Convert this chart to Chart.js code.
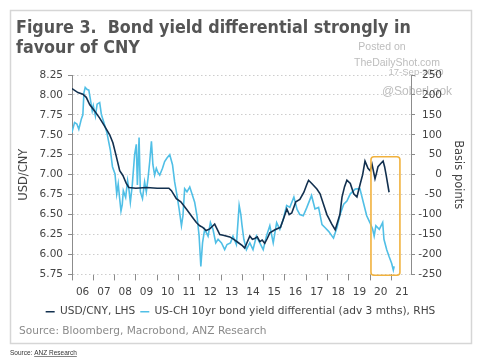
<!DOCTYPE html>
<html>
<head>
<meta charset="utf-8">
<script src="https://cdn.jsdelivr.net/npm/chart.js@4.4.0/dist/chart.umd.min.js"></script>
<style>
  html, body { margin: 0; padding: 0; background: #fff; }
  canvas { display: block; }
</style>
</head>
<body>
<canvas id="chart" width="480" height="363"></canvas>
<script>
// USD/CNY, left axis (year, rate)
const usdYears = [2006.00, 2006.28, 2006.51, 2006.67, 2006.83, 2007.06, 2007.30, 2007.53, 2007.77, 2007.92,
  2008.08, 2008.24, 2008.39, 2008.55, 2008.67, 2009.00, 2009.50, 2010.00, 2010.55, 2010.67,
  2010.90, 2011.11, 2011.37, 2011.62, 2011.84, 2012.00, 2012.14, 2012.30, 2012.47, 2012.62,
  2012.70, 2012.85, 2012.94, 2013.10, 2013.41, 2013.60, 2013.80, 2014.00, 2014.11, 2014.22,
  2014.35, 2014.47, 2014.58, 2014.70, 2014.82, 2014.93, 2015.05, 2015.17, 2015.29, 2015.53,
  2015.79, 2015.95, 2016.09, 2016.20, 2016.32, 2016.51, 2016.70, 2016.89, 2017.03, 2017.11,
  2017.26, 2017.50, 2017.65, 2017.81, 2017.97, 2018.20, 2018.36, 2018.44, 2018.58, 2018.68,
  2018.80, 2018.91, 2019.07, 2019.23, 2019.38, 2019.54, 2019.65, 2019.76, 2019.84, 2019.90,
  2020.00, 2020.09, 2020.23, 2020.30, 2020.37, 2020.50, 2020.61, 2020.68, 2020.75, 2020.89];
const usdValues = [8.08, 8.03, 8.01, 7.97, 7.88, 7.80, 7.71, 7.61, 7.50, 7.40,
  7.23, 7.05, 6.99, 6.89, 6.84, 6.83, 6.84, 6.83, 6.83, 6.80,
  6.70, 6.66, 6.57, 6.48, 6.40, 6.36, 6.34, 6.30, 6.32, 6.36,
  6.38, 6.30, 6.25, 6.24, 6.22, 6.19, 6.15, 6.11, 6.08, 6.15,
  6.23, 6.19, 6.20, 6.22, 6.16, 6.18, 6.14, 6.20, 6.27, 6.31,
  6.34, 6.46, 6.57, 6.50, 6.52, 6.66, 6.69, 6.78, 6.88, 6.93,
  6.89, 6.82, 6.76, 6.63, 6.50, 6.38, 6.31, 6.38, 6.50, 6.72,
  6.85, 6.93, 6.89, 6.76, 6.72, 6.89, 7.00, 7.17, 7.12, 7.08,
  7.05, 7.13, 6.95, 7.02, 7.10, 7.14, 7.17, 7.10, 7.00, 6.78];

// US-CH 10yr yield differential, advanced 3 months, right axis (year, bp)
const diffYears = [2005.99, 2006.12, 2006.23, 2006.32, 2006.44, 2006.51, 2006.56, 2006.62, 2006.70, 2006.79,
  2006.86, 2006.95, 2007.00, 2007.10, 2007.18, 2007.30, 2007.38, 2007.50, 2007.64, 2007.80,
  2007.90, 2008.02, 2008.10, 2008.17, 2008.25, 2008.30, 2008.36, 2008.41, 2008.52, 2008.61,
  2008.68, 2008.74, 2008.83, 2008.94, 2009.02, 2009.07, 2009.15, 2009.21, 2009.31, 2009.41,
  2009.49, 2009.57, 2009.65, 2009.73, 2009.80, 2009.88, 2009.96, 2010.04, 2010.12, 2010.25,
  2010.35, 2010.46, 2010.59, 2010.72, 2010.82, 2010.93, 2011.03, 2011.14, 2011.21, 2011.29,
  2011.40, 2011.53, 2011.66, 2011.76, 2011.87, 2011.97, 2012.05, 2012.13, 2012.23, 2012.39,
  2012.50, 2012.62, 2012.75, 2012.86, 2013.02, 2013.17, 2013.28, 2013.44, 2013.56, 2013.72,
  2013.85, 2013.93, 2013.98, 2014.07, 2014.19, 2014.35, 2014.50, 2014.66, 2014.82, 2014.98,
  2015.13, 2015.29, 2015.45, 2015.61, 2015.76, 2015.92, 2016.08, 2016.23, 2016.42, 2016.57,
  2016.70, 2016.86, 2017.03, 2017.25, 2017.41, 2017.58, 2017.74, 2017.89, 2018.05, 2018.28,
  2018.44, 2018.59, 2018.76, 2018.91, 2019.07, 2019.30, 2019.52, 2019.68, 2019.84, 2019.99,
  2020.12, 2020.19, 2020.27, 2020.43, 2020.59, 2020.65, 2020.78, 2020.89, 2021.01, 2021.09,
  2021.13];
const diffValues = [105, 131, 127, 114, 140, 150, 205, 219, 214, 212,
  190, 160, 173, 147, 177, 181, 151, 130, 105, 62,
  20, 2, -48, -23, -66, -91, -75, -40, -57, -15,
  -40, -69, -26, 50, 76, -26, 93, -43, -60, -18,
  -43, -9, 33, 84, 25, -1, 16, 5, -1, 16,
  33, 42, 50, 25, -18, -52, -86, -128, -103, -35,
  -43, -31, -52, -69, -103, -154, -230, -171, -137, -154,
  -120, -137, -171, -162, -171, -188, -175, -171, -154, -175,
  -77, -100, -125, -162, -188, -171, -188, -154, -171, -188,
  -154, -128, -171, -120, -137, -112, -77, -82, -56, -87,
  -100, -103, -82, -52, -86, -82, -125, -133, -142, -159,
  -133, -100, -74, -66, -48, -36, -35, -69, -103, -120,
  -137, -154, -128, -137, -120, -162, -188, -205, -222, -239,
  -230];

const xTickYears = [2006, 2007, 2008, 2009, 2010, 2011, 2012, 2013, 2014, 2015, 2016, 2017, 2018, 2019, 2020, 2021];
const xTickLabels = ['06', '07', '08', '09', '10', '11', '12', '13', '14', '15', '16', '17', '18', '19', '20', '21'];
const leftTicks = [5.75, 6.00, 6.25, 6.50, 6.75, 7.00, 7.25, 7.50, 7.75, 8.00, 8.25];
const rightTicks = [-250, -200, -150, -100, -50, 0, 50, 100, 150, 200, 250];

// highlighted period (orange box), in data units
const boxYears = [2020.04, 2021.40];
const boxBps = [-252, 45];

const FONT = '"DejaVu Sans", Verdana, sans-serif';
const TITLE_FONT = '"DejaVu Sans Condensed", "DejaVu Sans", Verdana, sans-serif';
const TXT = '#444';

const decor = {
  id: 'decor',
  beforeDraw(chart) {
    const ctx = chart.ctx;
    ctx.save();
    ctx.fillStyle = '#fff';
    ctx.fillRect(0, 0, chart.width, chart.height);
    ctx.strokeStyle = '#d6d6d6';
    ctx.lineWidth = 1.5;
    ctx.strokeRect(10.5, 10.5, 461, 333);

    // title
    ctx.fillStyle = '#555';
    ctx.textBaseline = 'alphabetic';
    ctx.textAlign = 'left';
    const t1 = 'Figure 3.  Bond yield differential strongly in';
    ctx.font = 'bold 18px ' + TITLE_FONT;
    const w = ctx.measureText(t1).width;
    const size = Math.min(18, 18 * 395 / w);
    ctx.font = 'bold ' + size.toFixed(2) + 'px ' + TITLE_FONT;
    ctx.fillText(t1, 16, 33);
    ctx.fillText('favour of CNY', 16, 53);

    // watermark
    ctx.fillStyle = '#bdbdbd';
    ctx.textAlign = 'center';
    ctx.font = '10.5px "Liberation Sans", Arial, sans-serif';
    ctx.fillText('Posted on', 382, 50);
    ctx.fillText('TheDailyShot.com', 397, 66);
    ctx.font = '9.5px "Liberation Sans", Arial, sans-serif';
    ctx.fillText('17-Sep-2020', 416, 75);
    ctx.font = '12px "Liberation Sans", Arial, sans-serif';
    ctx.fillText('@SoberLook', 417, 95);

    // source
    ctx.textAlign = 'left';
    ctx.fillStyle = '#8a8a8a';
    ctx.font = '10.6px ' + FONT;
    ctx.fillText('Source: Bloomberg, Macrobond, ANZ Research', 19, 334);

    // footnote
    ctx.fillStyle = '#333';
    ctx.font = '6.5px "Liberation Sans", Arial, sans-serif';
    const pre = 'Source: ';
    ctx.fillText(pre, 10, 355);
    const px = 10 + ctx.measureText(pre).width;
    ctx.fillText('ANZ Research', px, 355);
    const uw = ctx.measureText('ANZ Research').width;
    ctx.strokeStyle = '#333';
    ctx.lineWidth = 0.6;
    ctx.beginPath();
    ctx.moveTo(px, 356.5);
    ctx.lineTo(px + uw, 356.5);
    ctx.stroke();
    ctx.restore();
  },
  afterDatasetsDraw(chart) {
    const {ctx, scales} = chart;
    const x1 = scales.x.getPixelForValue(boxYears[0]);
    const x2 = scales.x.getPixelForValue(boxYears[1]);
    const y1 = scales.yR.getPixelForValue(boxBps[1]);
    const y2 = scales.yR.getPixelForValue(boxBps[0]);
    ctx.save();
    ctx.strokeStyle = '#f1b23e';
    ctx.lineWidth = 1.6;
    ctx.beginPath();
    ctx.roundRect(x1, y1, x2 - x1, y2 - y1, 3);
    ctx.stroke();
    ctx.restore();
  }
};

new Chart(document.getElementById('chart').getContext('2d'), {
  type: 'line',
  data: {
    datasets: [
      {
        label: 'USD/CNY, LHS',
        data: usdYears.map((x, i) => ({x: x, y: usdValues[i]})),
        yAxisID: 'yL',
        borderColor: '#12304f',
        backgroundColor: '#12304f',
        borderWidth: 1.6,
        pointRadius: 0,
        tension: 0
      },
      {
        label: 'US-CH 10yr bond yield differential (adv 3 mths), RHS',
        data: diffYears.map((x, i) => ({x: x, y: diffValues[i]})),
        yAxisID: 'yR',
        borderColor: '#50bfe6',
        backgroundColor: '#50bfe6',
        borderWidth: 1.6,
        pointRadius: 0,
        tension: 0
      }
    ]
  },
  options: {
    responsive: false,
    animation: false,
    devicePixelRatio: 1,
    layout: {padding: {left: 10, right: 9, top: 75, bottom: 36}},
    plugins: {
      legend: {
        position: 'bottom',
        labels: {
          usePointStyle: true,
          pointStyle: 'line',
          pointStyleWidth: 9,
          boxWidth: 9,
          padding: 5,
          color: TXT,
          font: {family: FONT, size: 10.6}
        }
      },
      tooltip: {enabled: false}
    },
    scales: {
      x: {
        type: 'linear',
        min: 2006,
        max: 2021.92,
        afterBuildTicks: s => { s.ticks = xTickYears.map(v => ({value: v})); },
        afterFit: s => { s.height = 27; },
        border: {display: false},
        grid: {drawOnChartArea: false, drawTicks: true, tickLength: 6, tickColor: '#8c8c8c'},
        ticks: {
          autoSkip: false,
          maxRotation: 0,
          labelOffset: 10.6,
          padding: 6,
          color: TXT,
          font: {family: FONT, size: 10.5},
          callback: v => xTickLabels[xTickYears.indexOf(v)] || ''
        }
      },
      yL: {
        type: 'linear',
        position: 'left',
        min: 5.75,
        max: 8.25,
        afterBuildTicks: s => { s.ticks = leftTicks.map(v => ({value: v})); },
        afterFit: s => { s.width = 62; },
        border: {display: true, color: '#8c8c8c', width: 1, dash: [1.5, 2.5]},
        grid: {color: '#cdcdcd', tickColor: '#8c8c8c', tickLength: 4, tickBorderDash: []},
        ticks: {
          padding: 5,
          color: TXT,
          font: {family: FONT, size: 10.5},
          callback: v => v.toFixed(2)
        },
        title: {display: true, text: 'USD/CNY', color: TXT, font: {family: FONT, size: 11.5}, padding: {top: 7, bottom: 0}}
      },
      yR: {
        type: 'linear',
        position: 'right',
        weight: 0,
        min: -250,
        max: 250,
        afterBuildTicks: s => { s.ticks = rightTicks.map(v => ({value: v})); },
        afterFit: s => { s.width = 31; },
        border: {display: true, color: '#8c8c8c', width: 1},
        grid: {drawOnChartArea: false, tickColor: '#8c8c8c', tickLength: 4},
        ticks: {
          padding: 2,
          crossAlign: 'far',
          color: TXT,
          font: {family: FONT, size: 10.5}
        }
      },
      // outer right strip that only carries the RHS axis title
      yT: {
        type: 'linear',
        position: 'right',
        weight: 1,
        min: -250,
        max: 250,
        afterFit: s => { s.width = 29; },
        border: {display: false},
        grid: {display: false},
        ticks: {display: false},
        title: {display: true, text: 'Basis points', color: TXT, font: {family: FONT, size: 11.5}, padding: {top: 6, bottom: 0}}
      }
    }
  },
  plugins: [decor]
});
</script>
</body>
</html>
